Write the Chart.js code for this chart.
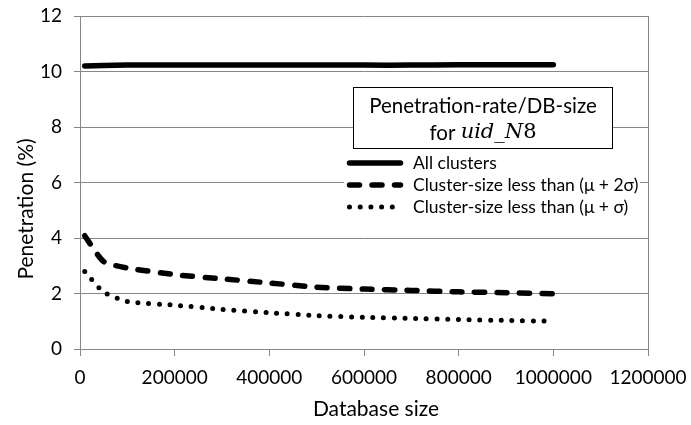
<!DOCTYPE html>
<html>
<head>
<meta charset="utf-8">
<script src="https://cdn.jsdelivr.net/npm/chart.js@4/dist/chart.umd.min.js"></script>
<style>
  html, body { margin: 0; padding: 0; background: #fff; }
  canvas { display: block; }
</style>
</head>
<body>
<canvas id="chart" width="691" height="425"></canvas>
<script>
// Database sizes (records) at which penetration was measured
const dbSizes = [10000, 50000, 100000, 200000, 300000, 400000, 500000, 600000, 700000, 800000, 900000, 1000000];

// Penetration (%) per series
const allClusters = [10.20, 10.22, 10.23, 10.23, 10.23, 10.23, 10.23, 10.23, 10.23, 10.24, 10.24, 10.24];
const belowMuPlus2Sigma = [4.08, 3.15, 2.92, 2.68, 2.53, 2.38, 2.23, 2.16, 2.11, 2.06, 2.03, 1.99];
const belowMuPlusSigma = [2.79, 2.05, 1.71, 1.58, 1.43, 1.31, 1.20, 1.14, 1.10, 1.06, 1.03, 1.00];

// Axis ticks
const xTickValues = [0, 200000, 400000, 600000, 800000, 1000000, 1200000];
const yTickValues = [0, 2, 4, 6, 8, 10, 12];

// Texts
const seriesLabels = ['All clusters', 'Cluster-size less than (\u03bc + 2\u03c3)', 'Cluster-size less than (\u03bc + \u03c3)'];
const boxTitleLine1 = 'Penetration-rate/DB-size';
const boxTitlePrefix = 'for ';
const boxTitleVar = 'uid_N';
const boxTitleDigit = '8';
const xAxisTitle = 'Database size';
const yAxisTitle = 'Penetration (%)';

const FONT = "Lato, 'DejaVu Sans', sans-serif";
const GRID = '#868686';
const INK = '#000000';

const toPoints = (ys) => ys.map((y, i) => ({ x: dbSizes[i], y }));

// Keep the plot area fixed: no extra room reserved for overhanging tick labels
const noLabelPadding = (s) => {
  s.paddingLeft = 0; s.paddingRight = 0; s.paddingTop = 0; s.paddingBottom = 0;
};

// Boxed title, series key and axis titles drawn over the plot
const keyPlugin = {
  id: 'keyPlugin',
  afterDraw(chart) {
    const ctx = chart.ctx;
    ctx.save();

    // axis titles
    ctx.fillStyle = INK;
    ctx.font = '21px ' + FONT;
    ctx.textAlign = 'center';
    ctx.textBaseline = 'middle';
    ctx.fillText(xAxisTitle, 376, 409);
    ctx.save();
    ctx.translate(26, 209);
    ctx.rotate(-Math.PI / 2);
    ctx.fillText(yAxisTitle, 0, 0);
    ctx.restore();

    // title box
    const bx = 353.5, by = 87.5, bw = 259, bh = 61;
    ctx.fillStyle = '#ffffff';
    ctx.fillRect(bx, by, bw, bh);
    ctx.strokeStyle = INK;
    ctx.lineWidth = 1;
    ctx.strokeRect(bx, by, bw, bh);

    const cx = bx + bw / 2;
    ctx.fillStyle = INK;
    ctx.font = '20.5px ' + FONT;
    ctx.textAlign = 'center';
    ctx.textBaseline = 'middle';
    ctx.fillText(boxTitleLine1, cx, 106);

    // second line: plain prefix + math-style identifier
    ctx.textAlign = 'left';
    const prefixFont = '20.5px ' + FONT;
    const varFont = "italic 21px 'DejaVu Serif', 'Liberation Serif', serif";
    const digitFont = "21px 'DejaVu Serif', 'Liberation Serif', serif";
    ctx.font = prefixFont; const w1 = ctx.measureText(boxTitlePrefix).width;
    ctx.font = varFont; const w2 = ctx.measureText(boxTitleVar).width;
    ctx.font = digitFont; const w3 = ctx.measureText(boxTitleDigit).width;
    let tx = cx - (w1 + w2 + w3) / 2;
    const ty = 133;
    ctx.font = prefixFont; ctx.fillText(boxTitlePrefix, tx, ty); tx += w1;
    ctx.font = varFont; ctx.fillText(boxTitleVar, tx, ty); tx += w2;
    ctx.font = digitFont; ctx.fillText(boxTitleDigit, tx, ty);

    // series key
    ctx.fillStyle = '#ffffff';
    ctx.fillRect(344, 151, 296, 66);
    const rows = [163, 185, 207];
    chart.data.datasets.forEach((ds, i) => {
      const y = rows[i];
      ctx.save();
      ctx.strokeStyle = ds.borderColor;
      ctx.lineWidth = ds.borderWidth;
      ctx.lineCap = ds.borderCapStyle || 'butt';
      ctx.setLineDash(ds.borderDash || []);
      ctx.beginPath();
      ctx.moveTo(349.5, y);
      ctx.lineTo(400.5, y);
      ctx.stroke();
      ctx.restore();
      ctx.fillStyle = INK;
      ctx.font = '17.5px ' + FONT;
      ctx.textAlign = 'left';
      ctx.textBaseline = 'middle';
      ctx.fillText(ds.label, 413, y);
    });

    ctx.restore();
  }
};

new Chart(document.getElementById('chart'), {
  type: 'line',
  data: {
    datasets: [
      {
        label: seriesLabels[0],
        data: toPoints(allClusters),
        borderColor: INK,
        borderWidth: 5.5,
        borderCapStyle: 'round',
        borderJoinStyle: 'round',
        pointRadius: 0,
        tension: 0.3
      },
      {
        label: seriesLabels[1],
        data: toPoints(belowMuPlus2Sigma),
        borderColor: INK,
        borderWidth: 5.5,
        borderDash: [10, 12.5],
        borderCapStyle: 'round',
        borderJoinStyle: 'round',
        pointRadius: 0,
        tension: 0.2
      },
      {
        label: seriesLabels[2],
        data: toPoints(belowMuPlusSigma),
        borderColor: INK,
        borderWidth: 5,
        borderDash: [0, 10.7],
        borderCapStyle: 'round',
        borderJoinStyle: 'round',
        pointRadius: 0,
        tension: 0.2
      }
    ]
  },
  options: {
    responsive: false,
    animation: false,
    events: [],
    layout: { padding: { top: 16, right: 43, left: 0, bottom: 0 } },
    plugins: { legend: { display: false }, tooltip: { enabled: false } },
    scales: {
      x: {
        type: 'linear',
        min: xTickValues[0],
        max: xTickValues[xTickValues.length - 1],
        afterBuildTicks: (s) => { s.ticks = xTickValues.map(v => ({ value: v })); },
        afterFit: (s) => { s.height = 76; noLabelPadding(s); },
        border: { display: true, color: GRID, width: 1 },
        grid: {
          drawOnChartArea: true,
          color: (c) => (c.tick && c.tick.value === xTickValues[xTickValues.length - 1]) ? GRID : 'rgba(0,0,0,0)',
          tickColor: GRID,
          tickLength: 7,
          lineWidth: 1
        },
        ticks: {
          color: INK,
          font: { family: FONT, size: 19 },
          padding: 10,
          maxRotation: 0,
          autoSkip: false,
          callback: (v) => String(v)
        }
      },
      y: {
        min: yTickValues[0],
        max: yTickValues[yTickValues.length - 1],
        afterBuildTicks: (s) => { s.ticks = yTickValues.map(v => ({ value: v })); },
        afterFit: (s) => { s.width = 80; noLabelPadding(s); },
        border: { display: true, color: GRID, width: 1 },
        grid: { color: GRID, tickColor: GRID, tickLength: 6, lineWidth: 1 },
        ticks: {
          color: INK,
          font: { family: FONT, size: 19 },
          padding: 12,
          callback: (v) => String(v)
        }
      }
    }
  },
  plugins: [keyPlugin]
});
</script>
</body>
</html>
